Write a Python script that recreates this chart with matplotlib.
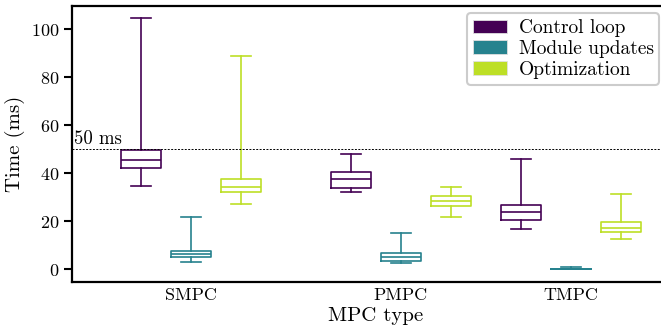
import numpy as np
import matplotlib
matplotlib.use('Agg')
import matplotlib.pyplot as plt
from matplotlib.patches import Patch

plt.rcParams['font.family'] = ['cmr10', 'DejaVu Serif']
plt.rcParams['mathtext.fontset'] = 'cm'
plt.rcParams['axes.formatter.use_mathtext'] = True

# data (ms)
mpc_types = ['SMPC', 'PMPC', 'TMPC']
series = ['Control loop', 'Module updates', 'Optimization']
colors = ['#440154', '#26828e', '#bddf26']

# per series: [SMPC, PMPC, TMPC]
whislo = {'Control loop': [34.7, 32.3, 16.7],
          'Module updates': [3.1, 2.5, 0.0],
          'Optimization': [27.1, 21.8, 12.6]}
q1 = {'Control loop': [42.1, 33.9, 20.4],
      'Module updates': [5.1, 3.5, 0.05],
      'Optimization': [32.3, 26.4, 15.5]}
med = {'Control loop': [45.3, 37.4, 23.7],
       'Module updates': [6.1, 4.9, 0.1],
       'Optimization': [34.4, 28.2, 17.3]}
q3 = {'Control loop': [49.7, 40.5, 26.5],
      'Module updates': [7.4, 6.8, 0.2],
      'Optimization': [37.5, 30.5, 19.7]}
whishi = {'Control loop': [104.6, 48.0, 45.9],
          'Module updates': [21.6, 15.2, 1.0],
          'Optimization': [88.8, 34.0, 31.4]}

deadline = 50

# group centres are not evenly spaced in the original
group_pos = np.array([0.0, 1.12, 2.03])
hue_offset = [-0.267, 0.0, 0.267]

fig = plt.figure(figsize=(6.61, 3.33), dpi=100)
ax = fig.add_axes([0.1085, 0.154, 0.92, 0.828])

handles = []
for i, s in enumerate(series):
    stats = []
    for j in range(len(mpc_types)):
        stats.append({'whislo': whislo[s][j], 'q1': q1[s][j], 'med': med[s][j],
                      'q3': q3[s][j], 'whishi': whishi[s][j], 'fliers': []})
    lp = dict(color=colors[i], linewidth=1.2)
    ax.bxp(stats, positions=group_pos + hue_offset[i], widths=0.213,
           showfliers=False, boxprops=lp, whiskerprops=lp, capprops=lp,
           medianprops=lp, manage_ticks=False)
    handles.append(Patch(facecolor=colors[i], edgecolor='#e0e0e0', linewidth=0.6, label=s))

ax.axhline(deadline, color='black', linestyle='--', linewidth=0.7, dashes=(2, 1.5))
ax.text(0.003, deadline + 0.6, '50 ms', transform=ax.get_yaxis_transform(),
        fontsize=13.5, va='bottom', ha='left')

ax.set_xlim(-0.636, 2.61)
ax.set_ylim(-5.3, 109.7)
ax.set_xticks(group_pos)
ax.set_xticklabels(mpc_types)
ax.set_yticks([0, 20, 40, 60, 80, 100])
ax.tick_params(axis='x', length=0, labelsize=13, pad=4)
ax.tick_params(axis='y', length=6, width=1.5, labelsize=13, pad=3)
for sp in ax.spines.values():
    sp.set_linewidth(1.6)

ax.set_xlabel('MPC type', fontsize=15, labelpad=3)
ax.set_ylabel('Time (ms)', fontsize=15, labelpad=4)

leg = ax.legend(handles=handles, loc='upper left', bbox_to_anchor=(0.7065, 0.960),
                bbox_transform=fig.transFigure, borderaxespad=0, fontsize=14,
                handlelength=1.75, handleheight=0.7, handletextpad=0.6,
                labelspacing=0.15, borderpad=0.3, fancybox=True, framealpha=1)
leg.get_frame().set_edgecolor('#cccccc')
leg.get_frame().set_linewidth(1.5)

fig.savefig('out.png', dpi=100)
